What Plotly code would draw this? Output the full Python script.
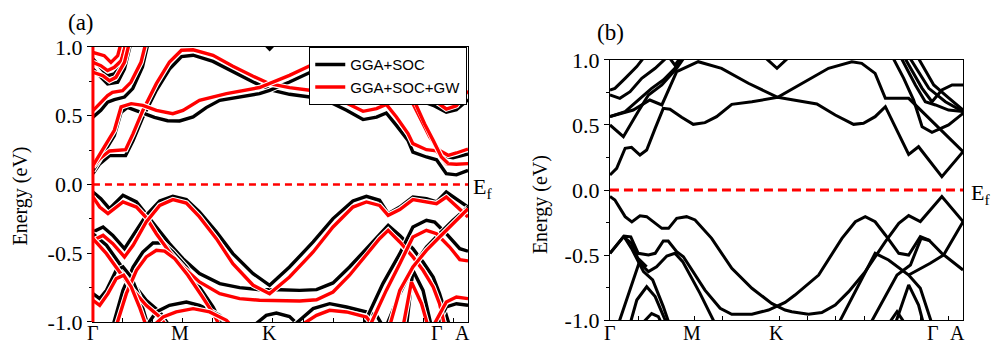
import plotly.graph_objects as go

# ---------------- Panel (a): GGA+SOC (black) ----------------
a_soc_c1 = ([0, 0.018, 0.044, 0.087, 0.107, 0.133, 0.169, 0.204, 0.236, 0.267, 0.32, 0.373, 0.427, 0.471, 0.524, 0.578, 0.631, 0.676, 0.72, 0.756, 0.782, 0.809, 0.84, 0.853, 0.889, 0.916, 0.942, 0.969, 1.0],
            [0.08, 0.15, 0.21, 0.21, 0.32, 0.49, 0.685, 0.84, 0.93, 0.94, 0.895, 0.82, 0.745, 0.69, 0.656, 0.636, 0.60, 0.54, 0.472, 0.49, 0.52, 0.43, 0.32, 0.236, 0.20, 0.18, 0.079, 0.07, 0.103])
a_soc_c2 = ([0, 0.03, 0.057, 0.075, 0.092, 0.128, 0.164, 0.199, 0.231, 0.267, 0.302, 0.338, 0.391, 0.444, 0.471, 0.524, 0.587, 0.64, 0.684, 0.72, 0.756, 0.791, 0.827, 0.871, 0.907, 0.942, 0.969, 1.0],
            [0.10, 0.234, 0.355, 0.525, 0.561, 0.525, 0.488, 0.464, 0.462, 0.491, 0.559, 0.612, 0.636, 0.661, 0.685, 0.745, 0.825, 0.898, 0.952, 0.939, 0.855, 0.721, 0.648, 0.612, 0.576, 0.525, 0.544, 0.617])
a_soc_c3 = ([0.787, 0.818, 0.853, 0.88, 0.907, 0.929, 0.96, 1.0],
            [1.03, 0.79, 0.62, 0.475, 0.307, 0.21, 0.195, 0.222])
a_soc_c4 = ([0, 0.021, 0.039, 0.057, 0.075, 0.092], [0.913, 0.852, 0.792, 0.804, 0.864, 1.03])
a_soc_c5 = ([0, 0.021, 0.039, 0.066, 0.084, 0.101], [0.84, 0.779, 0.731, 0.743, 0.84, 1.03])
a_soc_c6 = ([0, 0.021, 0.039, 0.057, 0.084, 0.106, 0.132, 0.147], [0.49, 0.539, 0.598, 0.617, 0.636, 0.697, 0.855, 1.03])
a_soc_c7 = ([0.455, 0.471, 0.487], [1.03, 0.985, 1.03])

a_soc_v1 = ([0, 0.021, 0.044, 0.08, 0.116, 0.142, 0.169, 0.204, 0.24, 0.284, 0.338, 0.391, 0.444, 0.498, 0.551, 0.596, 0.64, 0.684, 0.729, 0.764, 0.787, 0.818, 0.853, 0.88, 0.907, 0.924, 0.942, 0.951],
            [-0.055, -0.103, -0.176, -0.079, -0.127, -0.212, -0.309, -0.43, -0.54, -0.648, -0.721, -0.75, -0.765, -0.765, -0.77, -0.765, -0.716, -0.60, -0.467, -0.358, -0.297, -0.37, -0.467, -0.564, -0.673, -0.794, -0.939, -1.03])
a_soc_v2 = ([0, 0.027, 0.053, 0.084, 0.107, 0.142, 0.178, 0.213, 0.249, 0.284, 0.329, 0.373, 0.427, 0.471, 0.524, 0.587, 0.64, 0.693, 0.729, 0.764, 0.787, 0.818, 0.853, 0.889, 0.916, 0.942, 1.0],
            [-0.345, -0.309, -0.37, -0.467, -0.37, -0.224, -0.12, -0.086, -0.11, -0.20, -0.345, -0.503, -0.648, -0.733, -0.60, -0.418, -0.248, -0.12, -0.086, -0.115, -0.212, -0.164, -0.091, -0.103, -0.127, -0.055, -0.164])
a_soc_v3 = ([0, 0.036, 0.071, 0.107, 0.142, 0.178, 0.204], [-0.358, -0.442, -0.576, -0.721, -0.842, -0.927, -1.03])
a_soc_v4 = ([0.053, 0.08, 0.107, 0.133, 0.16, 0.187, 0.213, 0.249, 0.284, 0.32, 0.347],
            [-1.03, -0.77, -0.6, -0.491, -0.425, -0.425, -0.491, -0.6, -0.745, -0.891, -1.03])
a_soc_v5 = ([0, 0.018, 0.036, 0.062, 0.08, 0.102, 0.124, 0.147], [-0.794, -0.83, -0.77, -0.624, -0.6, -0.673, -0.818, -1.03])
a_soc_v6 = ([0.142, 0.169, 0.204, 0.249, 0.284, 0.338, 0.364], [-1.03, -0.927, -0.879, -0.855, -0.879, -0.952, -1.03])
a_soc_v7 = ([0.427, 0.462, 0.489, 0.524, 0.551], [-1.03, -0.952, -0.935, -0.96, -1.03])
a_soc_v8 = ([0.533, 0.587, 0.631, 0.676, 0.729, 0.756, 0.773], [-1.03, -0.903, -0.867, -0.891, -0.927, -0.952, -1.03])
a_soc_v9 = ([0.72, 0.773, 0.818, 0.853, 0.889, 0.911, 0.942, 0.978, 1.0], [-1.03, -0.721, -0.503, -0.309, -0.26, -0.273, -0.358, -0.467, -0.485])
a_soc_v10 = ([0.836, 0.853, 0.88, 0.902], [-1.03, -0.624, -0.77, -1.03])
a_soc_v11 = ([0.916, 0.942, 0.969, 1.0], [-1.03, -0.891, -0.867, -0.879])
a_soc_v12 = ([0.782, 0.818, 0.853, 0.889, 0.924, 0.96, 1.0], [-1.03, -0.794, -0.6, -0.455, -0.358, -0.26, -0.164])

# ---------------- Panel (a): GGA+SOC+GW (red) ----------------
a_gw_c1 = ([0, 0.018, 0.044, 0.087, 0.107, 0.133, 0.169, 0.204, 0.236, 0.267, 0.32, 0.373, 0.427, 0.471, 0.524, 0.578, 0.631, 0.676, 0.72, 0.756, 0.782, 0.809, 0.84, 0.853, 0.889, 0.916, 0.942, 0.969, 1.0],
           [0.127, 0.188, 0.244, 0.253, 0.37, 0.539, 0.733, 0.891, 0.976, 0.98, 0.94, 0.86, 0.787, 0.733, 0.704, 0.685, 0.653, 0.593, 0.532, 0.552, 0.583, 0.491, 0.37, 0.297, 0.253, 0.244, 0.152, 0.147, 0.152])
a_gw_c2 = ([0, 0.03, 0.057, 0.075, 0.102, 0.133, 0.169, 0.213, 0.24, 0.284, 0.356, 0.444, 0.471, 0.524, 0.587, 0.64, 0.684, 0.729, 0.773, 0.809, 0.844, 0.88, 0.916, 0.942, 0.969, 1.0],
           [0.137, 0.27, 0.394, 0.564, 0.588, 0.576, 0.539, 0.515, 0.539, 0.612, 0.661, 0.705, 0.733, 0.794, 0.874, 0.952, 1.01, 0.98, 0.879, 0.758, 0.704, 0.67, 0.598, 0.549, 0.573, 0.682])
a_gw_c3 = ([0.773, 0.809, 0.844, 0.871, 0.898, 0.924, 0.947, 0.969, 1.0], [1.03, 0.818, 0.636, 0.491, 0.345, 0.248, 0.212, 0.229, 0.258])
a_gw_c4 = ([0.787, 0.822, 0.858, 0.884, 0.907, 0.929, 0.947], [1.03, 0.818, 0.612, 0.442, 0.321, 0.2, 0.152])
a_gw_c5 = ([0, 0.021, 0.039, 0.057, 0.075, 0.088], [0.888, 0.864, 0.828, 0.852, 0.9, 1.03])
a_gw_c6 = ([0, 0.026, 0.044, 0.061, 0.084, 0.097], [0.816, 0.792, 0.755, 0.779, 0.888, 1.03])
a_gw_c7 = ([0, 0.03, 0.048, 0.066, 0.075], [0.961, 0.937, 0.888, 0.937, 1.03])
a_gw_c8 = ([0, 0.021, 0.039, 0.052, 0.079, 0.101, 0.128, 0.141], [0.537, 0.598, 0.646, 0.67, 0.682, 0.743, 0.888, 1.03])

a_gw_v1 = ([0, 0.018, 0.04, 0.08, 0.116, 0.142, 0.169, 0.204, 0.24, 0.284, 0.338, 0.391, 0.444, 0.498, 0.551, 0.596, 0.64, 0.684, 0.729, 0.764, 0.787, 0.818, 0.853, 0.88, 0.907, 0.924, 0.938],
           [-0.091, -0.164, -0.212, -0.127, -0.164, -0.24, -0.358, -0.491, -0.60, -0.709, -0.794, -0.83, -0.842, -0.842, -0.847, -0.838, -0.782, -0.66, -0.515, -0.394, -0.333, -0.418, -0.527, -0.624, -0.745, -0.867, -1.03])
a_gw_v2 = ([0, 0.027, 0.053, 0.084, 0.107, 0.142, 0.178, 0.213, 0.249, 0.284, 0.329, 0.373, 0.427, 0.471, 0.524, 0.587, 0.64, 0.693, 0.729, 0.764, 0.787, 0.818, 0.853, 0.889, 0.916, 0.942, 1.0],
           [-0.406, -0.37, -0.43, -0.527, -0.442, -0.273, -0.152, -0.11, -0.135, -0.236, -0.394, -0.576, -0.733, -0.794, -0.673, -0.491, -0.309, -0.164, -0.127, -0.152, -0.224, -0.182, -0.11, -0.127, -0.139, -0.091, -0.236])
a_gw_v3 = ([0, 0.036, 0.071, 0.107, 0.142, 0.178, 0.196], [-0.394, -0.503, -0.636, -0.77, -0.879, -0.964, -1.03])
a_gw_v4 = ([0.062, 0.089, 0.116, 0.142, 0.169, 0.191, 0.218, 0.253, 0.289, 0.324, 0.338],
           [-1.03, -0.794, -0.624, -0.527, -0.479, -0.485, -0.54, -0.66, -0.806, -0.952, -1.03])
a_gw_v5 = ([0, 0.018, 0.04, 0.062, 0.082, 0.102, 0.124, 0.142], [-0.842, -0.879, -0.794, -0.685, -0.66, -0.745, -0.891, -1.03])
a_gw_v6 = ([0.16, 0.187, 0.222, 0.267, 0.311, 0.356, 0.37], [-1.03, -0.964, -0.927, -0.903, -0.927, -0.988, -1.03])
a_gw_v8 = ([0.551, 0.596, 0.631, 0.676, 0.729, 0.747], [-1.03, -0.952, -0.915, -0.927, -0.964, -1.03])
a_gw_v9 = ([0.738, 0.782, 0.818, 0.853, 0.889, 0.916, 0.951, 0.978, 1.0], [-1.03, -0.77, -0.576, -0.382, -0.333, -0.358, -0.455, -0.546, -0.556])
a_gw_v10 = ([0.827, 0.849, 0.876, 0.893], [-1.03, -0.709, -0.867, -1.03])
a_gw_v11 = ([0.791, 0.818, 0.853, 0.889, 0.924, 0.96, 1.0], [-1.03, -0.77, -0.6, -0.479, -0.382, -0.285, -0.176])
a_gw_v12 = ([0.907, 0.942, 0.969, 1.0], [-1.03, -0.855, -0.818, -0.83])

# ---------------- Panel (b) (black) ----------------
b_c1 = ([0, 0.019, 0.043, 0.061, 0.085, 0.104, 0.128, 0.151, 0.17, 0.203, 0.236, 0.269, 0.302, 0.345, 0.402, 0.475, 0.52, 0.586, 0.638, 0.69, 0.718, 0.751, 0.78, 0.846, 0.874, 0.94, 1.0],
        [0.115, 0.167, 0.321, 0.328, 0.269, 0.308, 0.474, 0.628, 0.621, 0.559, 0.505, 0.518, 0.564, 0.659, 0.679, 0.713, 0.692, 0.662, 0.577, 0.505, 0.513, 0.564, 0.641, 0.274, 0.333, 0.103, 0.295])
b_c2 = ([0, 0.066, 0.113, 0.147, 0.189, 0.25, 0.316, 0.392, 0.475, 0.543, 0.619, 0.685, 0.713, 0.751, 0.78, 0.846, 1.0],
        [0.564, 0.615, 0.692, 0.654, 0.91, 0.987, 0.936, 0.821, 0.713, 0.821, 0.936, 0.987, 0.974, 0.897, 0.705, 0.705, 0.295])
b_c3 = ([0, 0.038, 0.08, 0.109, 0.147, 0.189, 0.213], [0.50, 0.41, 0.603, 0.731, 0.808, 0.936, 1.03])
b_c4 = ([0, 0.028, 0.057, 0.09, 0.128, 0.165], [0.731, 0.705, 0.756, 0.859, 0.936, 1.03])
b_c5 = ([0, 0.014, 0.043, 0.076, 0.099], [0.769, 0.782, 0.859, 0.949, 1.03])
b_c6 = ([0, 0.043, 0.08, 0.118, 0.151, 0.184, 0.208], [0.564, 0.603, 0.692, 0.782, 0.846, 0.936, 1.03])
b_c7 = ([0.435, 0.473, 0.51], [1.03, 0.936, 1.03])
b_c8 = ([0.165, 0.184, 0.203], [1.03, 0.96, 1.03])
b_c9 = ([0.799, 0.832, 0.86, 0.884, 0.912, 0.959, 1.0], [1.03, 0.859, 0.692, 0.487, 0.444, 0.50, 0.59])
b_c10 = ([0.822, 0.865, 0.893, 0.922, 0.959, 1.0], [1.03, 0.808, 0.679, 0.654, 0.615, 0.603])
b_c11 = ([0.832, 0.884, 0.912, 0.94, 0.969, 1.0], [1.03, 0.782, 0.679, 0.769, 0.808, 0.808])
b_c12 = ([0.846, 0.903, 0.95, 1.0], [1.03, 0.782, 0.679, 0.603])
b_c13 = ([0.87, 0.917, 0.955, 1.0], [1.03, 0.808, 0.718, 0.615])

b_v1 = ([0, 0.014, 0.043, 0.062, 0.085, 0.104, 0.147, 0.166, 0.189, 0.217, 0.241, 0.288, 0.345, 0.402, 0.458, 0.496, 0.515, 0.562, 0.600, 0.638, 0.676, 0.723, 0.78, 0.818, 0.846, 0.879, 0.94, 1.0],
        [-0.05, -0.077, -0.205, -0.245, -0.198, -0.205, -0.295, -0.295, -0.218, -0.205, -0.23, -0.372, -0.603, -0.756, -0.872, -0.923, -0.936, -0.956, -0.943, -0.885, -0.782, -0.628, -0.397, -0.256, -0.197, -0.243, -0.05, -0.243])
b_v2 = ([0, 0.019, 0.04, 0.059, 0.08, 0.109, 0.128, 0.151, 0.165, 0.189, 0.208, 0.269, 0.312, 0.345, 0.402, 0.449, 0.496, 0.524, 0.591, 0.657, 0.695, 0.723, 0.751, 0.78, 0.818, 0.846, 0.879, 0.903, 0.94, 1.0],
        [-0.487, -0.42, -0.355, -0.36, -0.487, -0.50, -0.487, -0.392, -0.392, -0.474, -0.513, -0.77, -0.91, -0.956, -0.956, -0.923, -0.864, -0.808, -0.654, -0.372, -0.244, -0.205, -0.244, -0.346, -0.487, -0.50, -0.359, -0.385, -0.487, -0.615])
b_v3 = ([0, 0.038, 0.061, 0.085, 0.109, 0.132, 0.161, 0.184, 0.206, 0.255, 0.298],
        [-0.487, -0.36, -0.41, -0.564, -0.628, -0.59, -0.508, -0.487, -0.551, -0.795, -1.03])
b_v4 = ([0.04, 0.061, 0.095, 0.121, 0.151, 0.168], [-0.36, -0.449, -0.628, -0.692, -0.897, -1.03])
b_v5 = ([0.024, 0.052, 0.085, 0.104], [-1.03, -0.81, -0.54, -0.59])
b_v6 = ([0.057, 0.076, 0.104, 0.128, 0.161], [-1.03, -0.846, -0.744, -0.82, -1.03])
b_v7 = ([0.09, 0.118, 0.137, 0.147], [-1.03, -0.95, -0.974, -1.03])
b_v8 = ([0.647, 0.751, 0.789, 0.846, 0.879, 0.912], [-1.03, -0.487, -0.538, -0.654, -0.756, -1.03])
b_v9 = ([0.737, 0.813, 0.851, 0.881, 0.907], [-1.03, -0.654, -0.577, -0.372, -0.39])
b_v10 = ([0.808, 0.846, 0.874, 0.888], [-1.03, -0.73, -0.885, -1.03])
b_v11 = ([0.789, 0.813, 0.836], [-1.03, -0.936, -1.03])
b_v12 = ([0.846, 0.907, 0.945, 1.0], [-0.654, -0.564, -0.50, -0.244])

A_SOC = [a_soc_c1, a_soc_c2, a_soc_c3, a_soc_c4, a_soc_c5, a_soc_c6, a_soc_c7,
         a_soc_v1, a_soc_v2, a_soc_v3, a_soc_v4, a_soc_v5, a_soc_v6, a_soc_v7, a_soc_v8,
         a_soc_v9, a_soc_v10, a_soc_v11, a_soc_v12]
A_GW = [a_gw_c1, a_gw_c2, a_gw_c3, a_gw_c4, a_gw_c5, a_gw_c6, a_gw_c7, a_gw_c8,
        a_gw_v1, a_gw_v2, a_gw_v3, a_gw_v4, a_gw_v5, a_gw_v6, a_gw_v8, a_gw_v9,
        a_gw_v10, a_gw_v11, a_gw_v12]
B_BANDS = [b_c1, b_c2, b_c3, b_c4, b_c5, b_c6, b_c7, b_c8, b_c9, b_c10, b_c11, b_c12, b_c13,
           b_v1, b_v2, b_v3, b_v4, b_v5, b_v6, b_v7, b_v8, b_v9, b_v10, b_v11, b_v12]

# label positions along the k path (Γ and A labels are set slightly apart, as in the figure)
KPATH_LABEL_POS = [0, 0.232, 0.472, 0.916, 0.985]
KPATH_LABELS = ["Γ", "M", "K", "Γ", "A"]
Y_TICKS = [-1.0, -0.5, 0.0, 0.5, 1.0]
Y_LABELS = ["-1.0", "-0.5", "0.0", "0.5", "1.0"]
SERIES_NAMES = ["GGA+SOC", "GGA+SOC+GW"]

RED = "#ff0000"
SERIF = "Liberation Serif"
SANS = "Liberation Sans"

fig = go.Figure()


def add_band(band, color, width, xa, ya, halo, name=None, show=False):
    k, e = band
    if halo:
        fig.add_trace(go.Scatter(x=k, y=e, mode="lines", xaxis=xa, yaxis=ya,
                                 line=dict(color="white", width=width + 2.2),
                                 showlegend=False, hoverinfo="skip"))
    fig.add_trace(go.Scatter(x=k, y=e, mode="lines", xaxis=xa, yaxis=ya,
                             line=dict(color=color, width=width),
                             name=name, showlegend=show, legendgroup=name))


for i, b in enumerate(A_SOC):
    add_band(b, "black", 3.4, "x", "y", True, SERIES_NAMES[0], i == 0)
for i, b in enumerate(A_GW):
    add_band(b, RED, 3.4, "x", "y", True, SERIES_NAMES[1], i == 0)
for b in B_BANDS:
    add_band(b, "black", 3.0, "x2", "y2", False)

xcommon = dict(range=[0, 1], showgrid=False, zeroline=False, showline=True,
               linecolor="black", linewidth=1.3, mirror=True, automargin=False,
               showticklabels=False, ticks="",
               minor=dict(tickmode="linear", tick0=0, dtick=0.08, ticks="inside",
                          ticklen=4, tickcolor="black"))
ycommon = dict(range=[-1, 1], showgrid=False, zeroline=False, showline=True,
               linecolor="black", linewidth=1.3, mirror=True, automargin=False,
               tickmode="array", tickvals=Y_TICKS, ticktext=Y_LABELS,
               ticks="outside", ticklen=5, tickcolor="black",
               tickfont=dict(family=SERIF, size=22, color="black"),
               minor=dict(tickmode="linear", tick0=-1, dtick=0.25, ticks="outside",
                          ticklen=3, tickcolor="black"))


def note(text, x, y, size, xref="paper", angle=0, xanchor="center", yanchor="middle", family=SERIF):
    return dict(text=text, x=x, y=y, xref=xref, yref="paper", showarrow=False,
                textangle=angle, xanchor=xanchor, yanchor=yanchor,
                font=dict(family=family, size=size, color="black"))


annotations = [
    note("(a)", 0.0822, 0.936, 23),
    note("(b)", 0.616, 0.905, 23),
    note("Energy (eV)", 0.0212, 0.432, 20, angle=-90),
    note("Energy (eV)", 0.545, 0.4075, 20, angle=-90),
    note("E<sub>f</sub>", 0.4753, 0.4566, 22, xanchor="left"),
    note("E<sub>f</sub>", 0.978, 0.439, 22, xanchor="left"),
]
for xr in ["x", "x2"]:
    for pos, lab in zip(KPATH_LABEL_POS, KPATH_LABELS):
        annotations.append(note(lab, pos, 0, 20, xref=xr, yanchor="bottom"))

fig.update_layout(
    width=991, height=346,
    margin=dict(l=0, r=0, t=0, b=0, autoexpand=False),
    paper_bgcolor="white", plot_bgcolor="white",
    xaxis=dict(domain=[0.0938, 0.4723], anchor="y", **xcommon),
    yaxis=dict(domain=[0.0694, 0.8642], anchor="x", **ycommon),
    xaxis2=dict(domain=[0.6155, 0.9718], anchor="y2", **xcommon),
    yaxis2=dict(domain=[0.0751, 0.8266], anchor="x2", **ycommon),
    legend=dict(x=0.4713, y=0.864, xanchor="right", yanchor="top",
                bgcolor="white", bordercolor="black", borderwidth=1.2,
                font=dict(family=SANS, size=15, color="black"),
                itemwidth=30, tracegroupgap=0),
    shapes=[
        dict(type="line", xref="x domain", yref="y", x0=0, x1=1, y0=0, y1=0,
             line=dict(color=RED, width=2.5, dash="7px,5px")),
        dict(type="line", xref="x2 domain", yref="y2", x0=0, x1=1, y0=0, y1=0,
             line=dict(color=RED, width=3.2, dash="9px,5px")),
        dict(type="line", xref="x domain", yref="y domain", x0=0, x1=0, y0=0, y1=1,
             line=dict(color=RED, width=3)),
    ],
    annotations=annotations,
)

fig.write_html("out.html", config={"displayModeBar": False},
               post_script="document.body.style.margin='0px';document.body.style.overflow='hidden';")
